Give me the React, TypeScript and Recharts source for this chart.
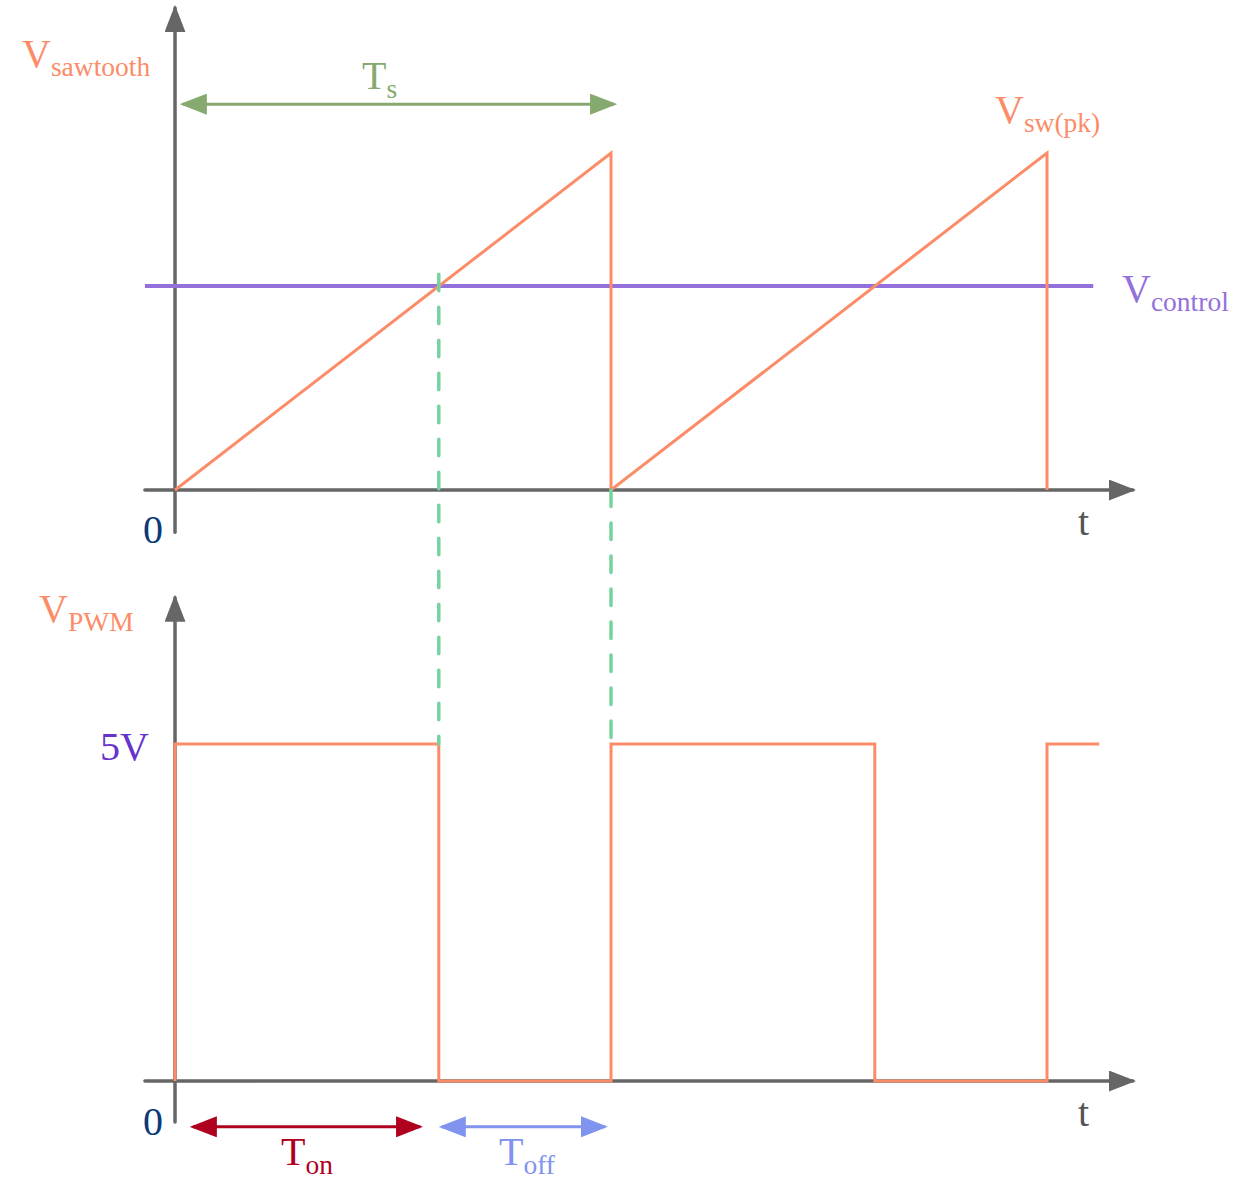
import { ComposedChart, Line, XAxis, YAxis, ReferenceLine } from 'recharts';

// time is in switching periods (Ts = 1); sawtooth is normalised to Vsw(pk) = 1
const sawTime = [0, 1, 1, 2, 2];
const sawLevel = [0, 1, 0, 1, 0];
const vControl = 0.605;
const guideTimes = [0.605, 1]; // Vcontrol crossing, sawtooth reset

const pwmTime = [0, 0, 0.605, 0.605, 1, 1, 1.605, 1.605, 2, 2, 2.12];
const pwmLevel = [0, 5, 5, 0, 0, 5, 5, 0, 0, 5, 5];
const pwmHigh = 5;

// interval arrows [start, end] in periods
const tsSpan = [0.018, 1.007];
const tonSpan = [0.041, 0.562];
const toffSpan = [0.612, 0.986];

const W = 1245;
const H = 1187;
const T_DOMAIN: [number, number] = [-0.4014, 2.4541];
const SAW_DOMAIN: [number, number] = [-2.0682, 1.454];
const PWM_DOMAIN: [number, number] = [-1.5727, 16.0386];

// map a pwm-axis value onto the sawtooth axis (both span the full plot height)
const pwmToSaw = (v: number) => {
  const f = (PWM_DOMAIN[1] - v) / (PWM_DOMAIN[1] - PWM_DOMAIN[0]);
  return SAW_DOMAIN[1] - f * (SAW_DOMAIN[1] - SAW_DOMAIN[0]);
};

const sawData = sawTime.map((t, i) => ({ t, v: sawLevel[i] }));
const pwmData = pwmTime.map((t, i) => ({ t, v: pwmLevel[i] }));

const ORANGE = '#fc8c68';
const AXIS = '#666666';
const PURPLE = '#9370db';
const GUIDE = '#76d3a0';
const TS_GREEN = '#85a96f';
const TON_RED = '#b0001f';
const TOFF_BLUE = '#7f93ef';
const FONT = '"Liberation Serif", "Times New Roman", serif';

function Marker({ id, color }: { id: string; color: string }) {
  return (
    <marker
      id={id}
      viewBox="0 0 27 21"
      markerWidth={27}
      markerHeight={21}
      refX={24}
      refY={10.5}
      markerUnits="userSpaceOnUse"
      orient="auto-start-reverse"
    >
      <path d="M0,0 L27,10.5 L0,21 z" fill={color} />
    </marker>
  );
}

function Label({ x, y, main, sub, color, size = 40 }: { x: number; y: number; main: string; sub?: string; color: string; size?: number }) {
  return (
    <text x={x} y={y} fill={color} fontSize={size} fontFamily={FONT}>
      {main}
      {sub && (
        <tspan fontSize={27.5} dy={9}>
          {sub}
        </tspan>
      )}
    </text>
  );
}

export default function App() {
  const axisLine = { stroke: AXIS, strokeWidth: 3.5, strokeLinecap: 'round' as const, ifOverflow: 'visible' as const };
  return (
    <div style={{ position: 'absolute', left: 0, top: 0, width: W, height: H, background: '#fff' }}>
      <svg width={0} height={0} style={{ position: 'absolute' }}>
        <defs>
          <Marker id="arAxis" color={AXIS} />
          <Marker id="arTs" color={TS_GREEN} />
          <Marker id="arTon" color={TON_RED} />
          <Marker id="arToff" color={TOFF_BLUE} />
        </defs>
      </svg>
      <ComposedChart width={W} height={H} margin={{ top: 0, right: 0, bottom: 0, left: 0 }}>
        <XAxis type="number" dataKey="t" domain={T_DOMAIN} allowDataOverflow hide />
        <YAxis yAxisId="saw" type="number" domain={SAW_DOMAIN} allowDataOverflow hide />
        <YAxis yAxisId="pwm" type="number" domain={PWM_DOMAIN} allowDataOverflow hide />

        {/* axes, top panel */}
        <ReferenceLine yAxisId="saw" segment={[{ x: 0, y: -0.125 }, { x: 0, y: 1.43 }]} {...axisLine} markerEnd="url(#arAxis)" />
        <ReferenceLine yAxisId="saw" segment={[{ x: -0.069, y: 0 }, { x: 2.197, y: 0 }]} {...axisLine} markerEnd="url(#arAxis)" />
        {/* axes, bottom panel */}
        <ReferenceLine yAxisId="pwm" segment={[{ x: 0, y: -0.61 }, { x: 0, y: 7.17 }]} {...axisLine} markerEnd="url(#arAxis)" />
        <ReferenceLine yAxisId="pwm" segment={[{ x: -0.069, y: 0 }, { x: 2.197, y: 0 }]} {...axisLine} markerEnd="url(#arAxis)" />

        <ReferenceLine
          yAxisId="saw"
          segment={[{ x: -0.069, y: vControl }, { x: 2.106, y: vControl }]}
          stroke={PURPLE}
          strokeWidth={4}
          ifOverflow="visible"
        />

        <Line yAxisId="saw" data={sawData} dataKey="v" type="linear" stroke={ORANGE} strokeWidth={3} dot={false} activeDot={false} isAnimationActive={false} />
        <Line yAxisId="pwm" data={pwmData} dataKey="v" type="linear" stroke={ORANGE} strokeWidth={3} dot={false} activeDot={false} isAnimationActive={false} />

        {guideTimes.map((t, i) => (
          <ReferenceLine
            key={t}
            yAxisId="saw"
            segment={[{ x: t, y: i === 0 ? vControl + 0.035 : 0 }, { x: t, y: pwmToSaw(pwmHigh) }]}
            stroke={GUIDE}
            strokeWidth={3.5}
            strokeDasharray="16.5 16.5"
            strokeLinecap="round"
            ifOverflow="visible"
          />
        ))}

        <ReferenceLine
          yAxisId="saw"
          segment={[{ x: tsSpan[0], y: 1.145 }, { x: tsSpan[1], y: 1.145 }]}
          stroke={TS_GREEN}
          strokeWidth={3}
          markerStart="url(#arTs)"
          markerEnd="url(#arTs)"
          ifOverflow="visible"
        />
        <ReferenceLine
          yAxisId="pwm"
          segment={[{ x: tonSpan[0], y: -0.68 }, { x: tonSpan[1], y: -0.68 }]}
          stroke={TON_RED}
          strokeWidth={3}
          markerStart="url(#arTon)"
          markerEnd="url(#arTon)"
          ifOverflow="visible"
        />
        <ReferenceLine
          yAxisId="pwm"
          segment={[{ x: toffSpan[0], y: -0.68 }, { x: toffSpan[1], y: -0.68 }]}
          stroke={TOFF_BLUE}
          strokeWidth={3}
          markerStart="url(#arToff)"
          markerEnd="url(#arToff)"
          ifOverflow="visible"
        />
      </ComposedChart>

      <svg width={W} height={H} style={{ position: 'absolute', left: 0, top: 0, pointerEvents: 'none' }}>
        <Label x={22} y={67} main="V" sub="sawtooth" color={ORANGE} />
        <Label x={362} y={89} main="T" sub="s" color={TS_GREEN} />
        <Label x={995} y={123} main="V" sub="sw(pk)" color={ORANGE} />
        <Label x={1122} y={302} main="V" sub="control" color={PURPLE} />
        <Label x={143} y={543} main="0" color="#0a3a78" />
        <Label x={1078} y={535} main="t" color="#555555" />
        <Label x={39} y={622} main="V" sub="PWM" color={ORANGE} />
        <Label x={100} y={760} main="5V" color="#6633cc" />
        <Label x={143} y={1135} main="0" color="#0a3a78" />
        <Label x={1078} y={1126} main="t" color="#555555" />
        <Label x={281} y={1165} main="T" sub="on" color={TON_RED} />
        <Label x={499} y={1165} main="T" sub="off" color={TOFF_BLUE} />
      </svg>
    </div>
  );
}
